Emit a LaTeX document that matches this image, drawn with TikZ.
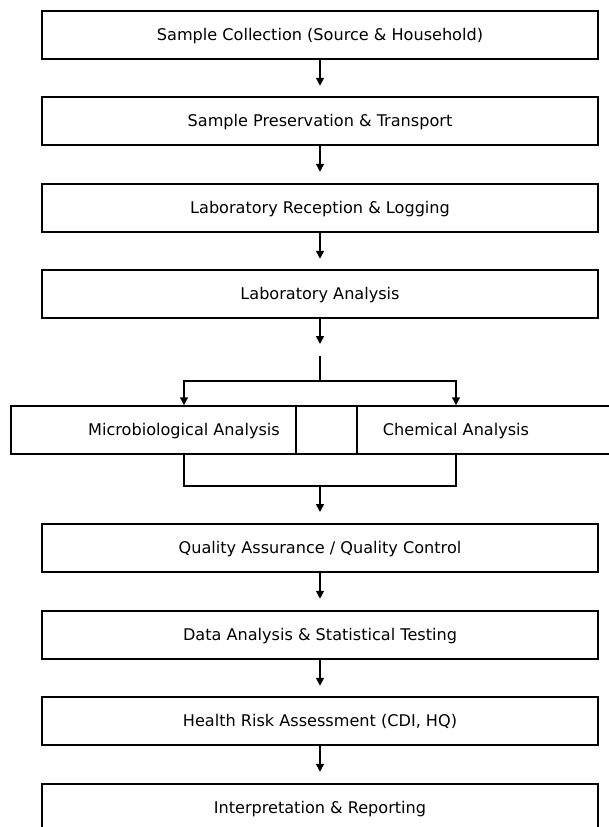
\documentclass[tikz,border=0pt]{standalone}
\usepackage{fontspec}
\setmainfont{DejaVu Sans}
\usetikzlibrary{arrows.meta}
\begin{document}
\begin{tikzpicture}[x=1pt,y=-1pt,
  stepbox/.style={draw=black,line width=1.5pt,minimum height=48pt,inner sep=0pt,
    text height=12pt,text depth=1pt,
    font=\fontsize{16.1}{19}\selectfont},
  mainbox/.style={stepbox,minimum width=556pt},
  arr/.style={line width=1.5pt,-{Triangle[length=8pt,width=8pt]}},
  ln/.style={line width=1.5pt}]
\useasboundingbox (0,0) rectangle (609,827);
\node[mainbox] (b1) at (320,35) {Sample Collection (Source \& Household)};
\node[mainbox] (b2) at (320,121) {Sample Preservation \& Transport};
\node[mainbox] (b3) at (320,208) {Laboratory Reception \& Logging};
\node[mainbox] (b4) at (320,294) {Laboratory Analysis};
\node[stepbox,minimum width=346pt] (mic) at (184,430) {Microbiological Analysis};
\node[stepbox,minimum width=320pt] (chem) at (456,430) {Chemical Analysis};
\node[mainbox] (b5) at (320,548) {Quality Assurance / Quality Control};
\node[mainbox] (b6) at (320,635) {Data Analysis \& Statistical Testing};
\node[mainbox] (b7) at (320,721) {Health Risk Assessment (CDI, HQ)};
\node[mainbox] (b8) at (320,808) {Interpretation \& Reporting};
\draw[arr] (b1.south) -- ++(0,26);
\draw[arr] (b2.south) -- ++(0,26);
\draw[arr] (b3.south) -- ++(0,26);
\coordinate (e4) at (320,344);
\draw[arr] (b4.south) -- (e4);
\coordinate (s) at (320,356);
\coordinate (j) at (320,381);
\draw[ln] (s) -- (j);
\draw[arr] (j) -| (mic.north);
\draw[arr] (j) -| (chem.north);
\coordinate (m) at (320,486);
\draw[ln] (mic.south) |- (m);
\draw[ln] (chem.south) |- (m);
\draw[arr] (m) -- ++(0,26);
\draw[arr] (b5.south) -- ++(0,26);
\draw[arr] (b6.south) -- ++(0,26);
\draw[arr] (b7.south) -- ++(0,26);
\end{tikzpicture}
\end{document}
